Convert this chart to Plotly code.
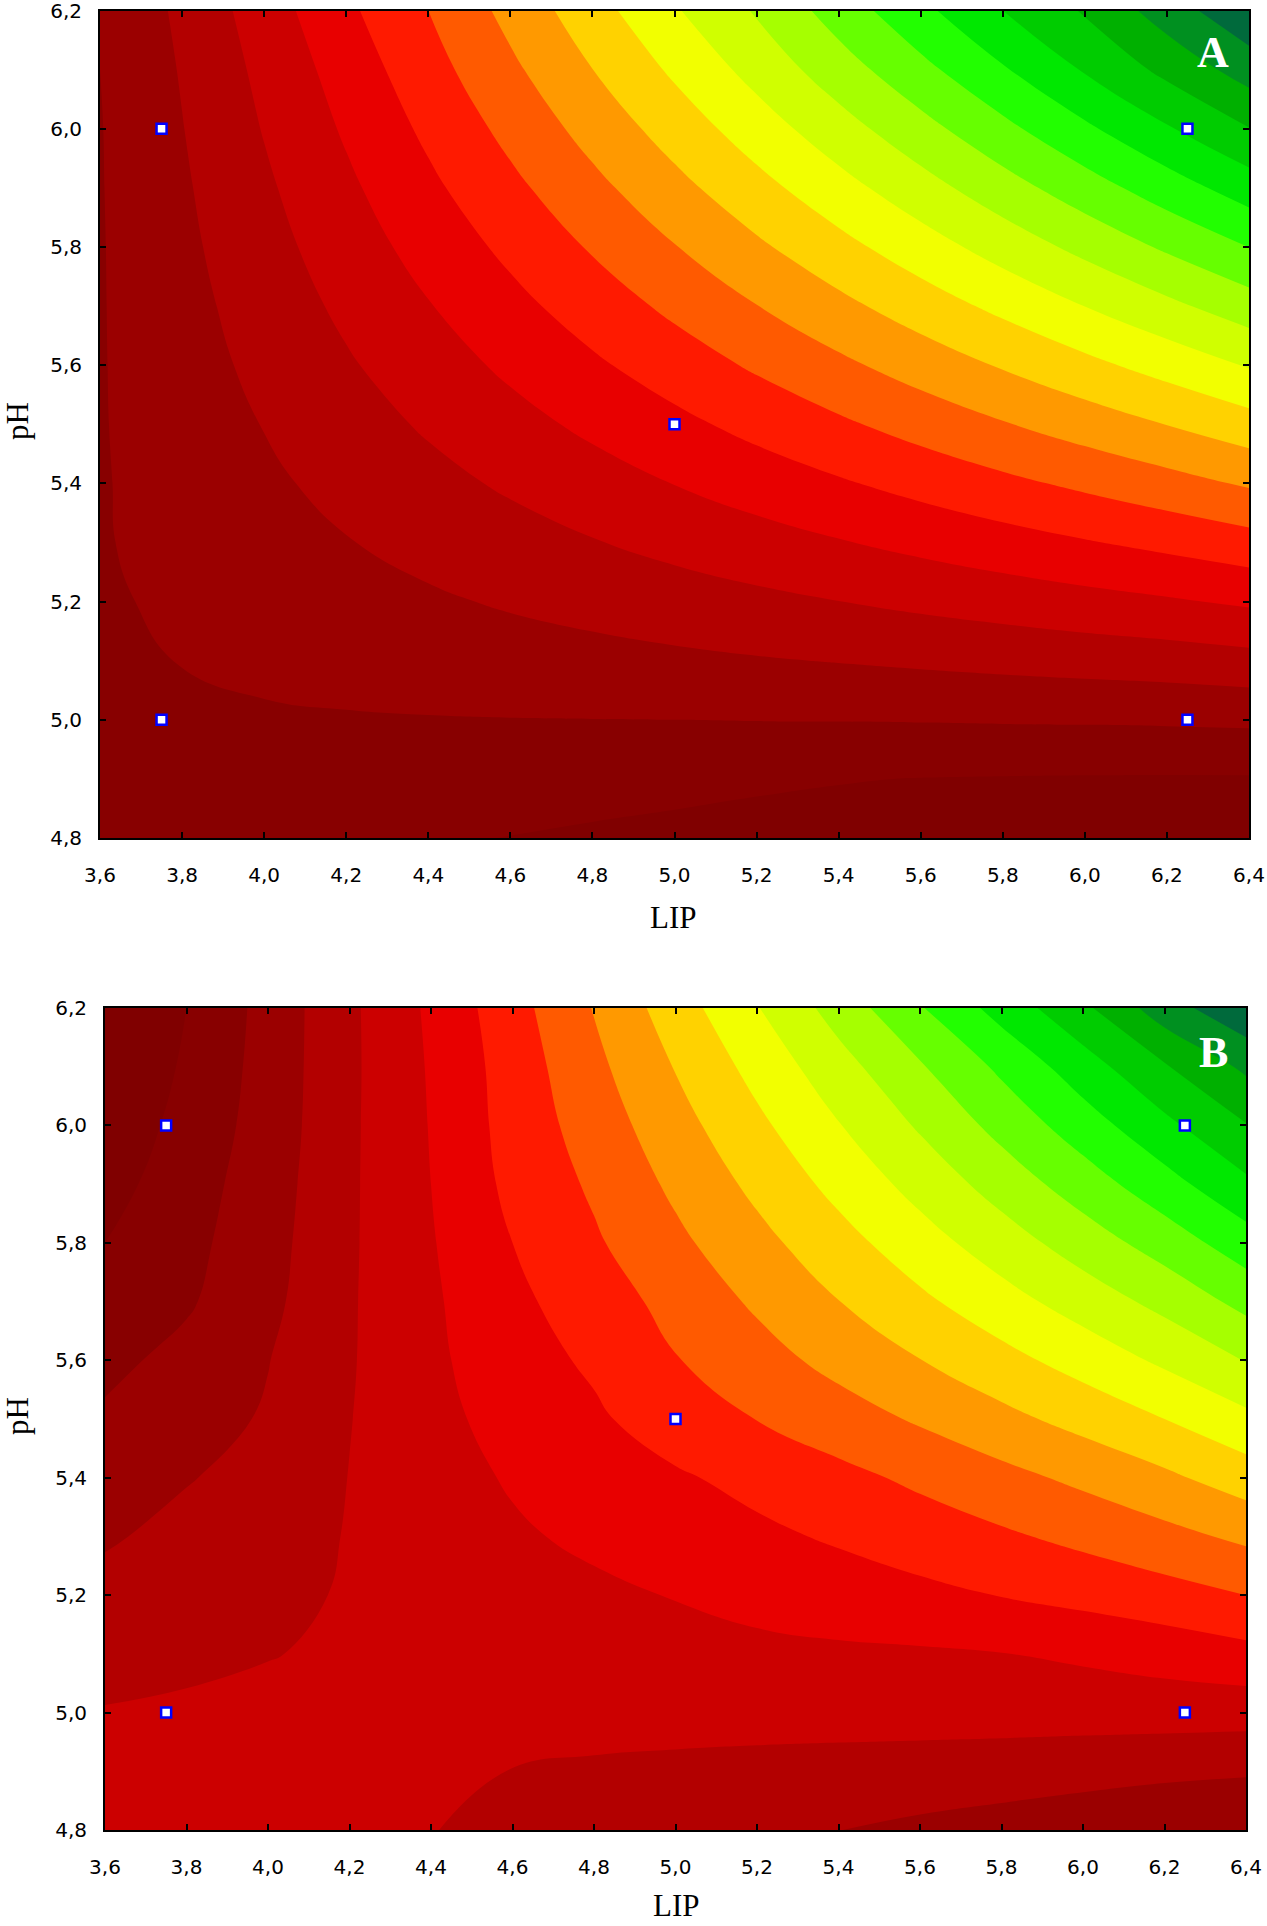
import plotly.graph_objects as go

# grid (level index of the colour bands)
lip = [3.6, 3.8, 4.0, 4.2, 4.4, 4.6, 4.8, 5.0, 5.2, 5.4, 5.6, 5.8, 6.0, 6.2, 6.4]
ph = [4.8, 4.9, 5.0, 5.1, 5.2, 5.3, 5.4, 5.5, 5.6, 5.7, 5.8, 5.9, 6.0, 6.1, 6.2]

z_a = [
    [1.40, 1.45, 1.35, 1.22, 1.10, 0.98, 0.88, 0.80, 0.72, 0.65, 0.58, 0.52, 0.46, 0.40, 0.35],
    [1.50, 1.72, 1.70, 1.62, 1.52, 1.42, 1.32, 1.22, 1.12, 1.04, 0.98, 0.95, 0.93, 0.92, 0.92],
    [1.60, 1.80, 1.88, 1.93, 1.96, 1.98, 1.99, 2.00, 2.02, 2.03, 2.05, 2.08, 2.10, 2.13, 2.18],
    [1.75, 2.03, 2.22, 2.34, 2.46, 2.58, 2.69, 2.81, 2.93, 3.04, 3.16, 3.28, 3.40, 3.51, 3.68],
    [1.85, 2.20, 2.43, 2.65, 2.87, 3.10, 3.32, 3.55, 3.77, 3.99, 4.22, 4.44, 4.67, 4.89, 5.15],
    [1.93, 2.30, 2.63, 2.96, 3.29, 3.62, 3.95, 4.28, 4.61, 4.94, 5.27, 5.60, 5.93, 6.26, 6.62],
    [1.93, 2.39, 2.83, 3.27, 3.71, 4.14, 4.58, 5.02, 5.46, 5.89, 6.33, 6.77, 7.20, 7.64, 8.12],
    [1.94, 2.49, 3.03, 3.58, 4.12, 4.67, 5.21, 5.75, 6.30, 6.84, 7.39, 7.93, 8.47, 9.02, 9.60],
    [1.94, 2.59, 3.24, 3.89, 4.54, 5.19, 5.84, 6.49, 7.14, 7.79, 8.44, 9.09, 9.74, 10.39, 11.08],
    [1.94, 2.68, 3.44, 4.20, 4.95, 5.71, 6.47, 7.22, 7.98, 8.74, 9.50, 10.25, 11.01, 11.77, 12.54],
    [1.94, 2.78, 3.64, 4.51, 5.37, 6.23, 7.10, 7.96, 8.83, 9.69, 10.55, 11.42, 12.28, 13.15, 14.01],
    [1.95, 2.87, 3.84, 4.81, 5.79, 6.76, 7.73, 8.70, 9.67, 10.64, 11.61, 12.58, 13.55, 14.52, 15.49],
    [1.96, 2.97, 4.05, 5.12, 6.20, 7.28, 8.36, 9.43, 10.51, 11.59, 12.66, 13.74, 14.82, 15.90, 16.97],
    [2.00, 3.07, 4.25, 5.43, 6.62, 7.80, 8.99, 10.17, 11.35, 12.54, 13.72, 14.90, 16.09, 17.27, 18.46],
    [2.05, 3.20, 4.50, 5.80, 7.00, 8.30, 9.60, 10.90, 12.10, 13.45, 14.75, 16.00, 17.10, 18.50, 19.80],
]

z_b = [
    [4.50, 4.45, 4.30, 4.15, 4.02, 3.82, 3.62, 3.42, 3.22, 3.01, 2.82, 2.64, 2.46, 2.28, 2.10],
    [4.30, 4.35, 4.38, 4.35, 4.20, 3.98, 3.85, 3.75, 3.66, 3.58, 3.50, 3.42, 3.30, 3.18, 3.10],
    [4.05, 4.12, 4.20, 4.30, 4.35, 4.38, 4.40, 4.42, 4.43, 4.44, 4.45, 4.45, 4.45, 4.45, 4.42],
    [3.66, 3.83, 3.97, 4.12, 4.25, 4.40, 4.55, 4.68, 4.78, 4.84, 4.88, 4.98, 5.15, 5.40, 5.70],
    [3.27, 3.45, 3.78, 4.08, 4.30, 4.55, 4.80, 5.04, 5.28, 5.52, 5.77, 6.03, 6.31, 6.62, 7.00],
    [2.90, 3.25, 3.60, 4.05, 4.45, 4.86, 5.20, 5.50, 5.80, 6.12, 6.47, 6.85, 7.25, 7.70, 8.20],
    [2.52, 2.95, 3.30, 4.02, 4.58, 5.10, 5.48, 5.88, 6.28, 6.72, 7.20, 7.70, 8.22, 8.80, 9.50],
    [2.14, 2.60, 3.10, 3.97, 4.72, 5.35, 5.85, 6.48, 7.02, 7.56, 8.12, 8.72, 9.34, 10.00, 10.75],
    [1.76, 2.28, 2.97, 3.92, 4.80, 5.60, 6.15, 6.95, 7.62, 8.30, 8.98, 9.68, 10.40, 11.18, 12.05],
    [1.38, 1.88, 2.75, 3.90, 4.85, 5.80, 6.45, 7.35, 8.15, 8.98, 9.80, 10.62, 11.45, 12.30, 13.30],
    [1.00, 1.71, 2.63, 3.87, 4.93, 6.00, 6.87, 7.78, 8.70, 9.63, 10.58, 11.52, 12.48, 13.45, 14.55],
    [0.62, 1.55, 2.52, 3.85, 5.00, 6.25, 7.15, 8.20, 9.24, 10.30, 11.35, 12.42, 13.50, 14.62, 15.80],
    [0.24, 1.36, 2.41, 3.83, 5.05, 6.38, 7.45, 8.62, 9.78, 10.95, 12.12, 13.32, 14.52, 15.75, 16.95],
    [-0.15, 1.17, 2.37, 3.81, 5.10, 6.45, 7.75, 9.05, 10.33, 11.62, 12.90, 14.20, 15.55, 16.90, 18.20],
    [-0.45, 1.00, 2.34, 3.81, 5.18, 6.62, 8.05, 9.52, 10.95, 12.41, 13.92, 15.38, 16.78, 18.55, 19.80],
]

# experimental points
pts_lip = [3.75, 3.75, 5.0, 6.25, 6.25]
pts_ph = [5.0, 6.0, 5.5, 5.0, 6.0]

band_colors = ["#800000", "#880000", "#9b0000", "#b30000", "#cc0000", "#e80000",
               "#ff1a00", "#ff5a00", "#ff9900", "#ffd200", "#f2ff00", "#d0ff00",
               "#a6ff00", "#66ff00", "#22ff00", "#00e800", "#00cc00", "#00b000",
               "#009020", "#006a3c", "#005a34"]

x_ticks = [3.6, 3.8, 4.0, 4.2, 4.4, 4.6, 4.8, 5.0, 5.2, 5.4, 5.6, 5.8, 6.0, 6.2, 6.4]
x_text = ["3,6", "3,8", "4,0", "4,2", "4,4", "4,6", "4,8", "5,0", "5,2", "5,4",
          "5,6", "5,8", "6,0", "6,2", "6,4"]
y_ticks = [4.8, 5.0, 5.2, 5.4, 5.6, 5.8, 6.0, 6.2]
y_text = ["4,8", "5,0", "5,2", "5,4", "5,6", "5,8", "6,0", "6,2"]

# step colorscale, one flat colour per band
n = len(band_colors) - 1
cscale = []
for k, c in enumerate(band_colors):
    lo = max(0.0, (k - 0.5) / n)
    hi = min(1.0, (k + 0.5) / n)
    cscale.append([lo, c])
    cscale.append([hi, c])

W, H = 1267, 1926

fig = go.Figure()

for z, xa, ya in [(z_a, "x", "y"), (z_b, "x2", "y2")]:
    fig.add_trace(go.Contour(
        x=lip, y=ph, z=z, xaxis=xa, yaxis=ya,
        colorscale=cscale, showscale=False,
        autocontour=False,
        contours=dict(start=1, end=n, size=1, coloring="fill", showlines=False),
        line=dict(width=0, smoothing=1.3),
        hoverinfo="skip",
    ))
    fig.add_trace(go.Scatter(
        x=pts_lip, y=pts_ph, xaxis=xa, yaxis=ya, mode="markers",
        marker=dict(symbol="square", size=10, color="white",
                    line=dict(color="#0000ff", width=2.5)),
        showlegend=False, hoverinfo="skip",
    ))

tick_font = dict(family="DejaVu Sans", size=20, color="#000000")
ax_common = dict(showline=True, linewidth=2, linecolor="black", mirror="ticks",
                 ticks="inside", ticklen=6, tickwidth=2, tickcolor="black",
                 showgrid=False, zeroline=False, tickfont=tick_font,
                 automargin=False, ticklabeloverflow="allow")

fig.update_layout(
    template="none",
    width=W, height=H,
    margin=dict(l=0, r=0, t=0, b=0),
    paper_bgcolor="white", plot_bgcolor="white",
    showlegend=False,
    xaxis=dict(domain=[100 / W, 1249 / W], range=[3.6, 6.4], anchor="y",
               tickvals=x_ticks, ticktext=x_text, ticklabelstandoff=18, **ax_common),
    yaxis=dict(domain=[1 - 838 / H, 1 - 10.5 / H], range=[4.8, 6.2], anchor="x",
               tickvals=y_ticks, ticktext=y_text, ticklabelstandoff=12, **ax_common),
    xaxis2=dict(domain=[105 / W, 1246 / W], range=[3.6, 6.4], anchor="y2",
                tickvals=x_ticks, ticktext=x_text, ticklabelstandoff=18, **ax_common),
    yaxis2=dict(domain=[1 - 1830 / H, 1 - 1008 / H], range=[4.8, 6.2], anchor="x2",
                tickvals=y_ticks, ticktext=y_text, ticklabelstandoff=12, **ax_common),
)

title_font = dict(family="Liberation Serif", size=31, color="black")
label_font = dict(family="Liberation Serif", size=44, color="white")
notes = [
    ("LIP", 673, 918, 0, title_font),
    ("LIP", 676, 1905, 0, title_font),
    ("pH", 17, 421, -90, title_font),
    ("pH", 17, 1416, -90, title_font),
    ("<b>A</b>", 1213, 52, 0, label_font),
    ("<b>B</b>", 1213, 1052, 0, label_font),
]
for txt, px, py, ang, f in notes:
    fig.add_annotation(text=txt, x=px / W, y=1 - py / H, xref="paper", yref="paper",
                       xanchor="center", yanchor="middle", showarrow=False,
                       textangle=ang, font=f)

# no page margin, so the figure sits at the window's top-left corner
fig.write_html("out.html", config={"displayModeBar": False},
               post_script="document.body.style.margin='0px';")
